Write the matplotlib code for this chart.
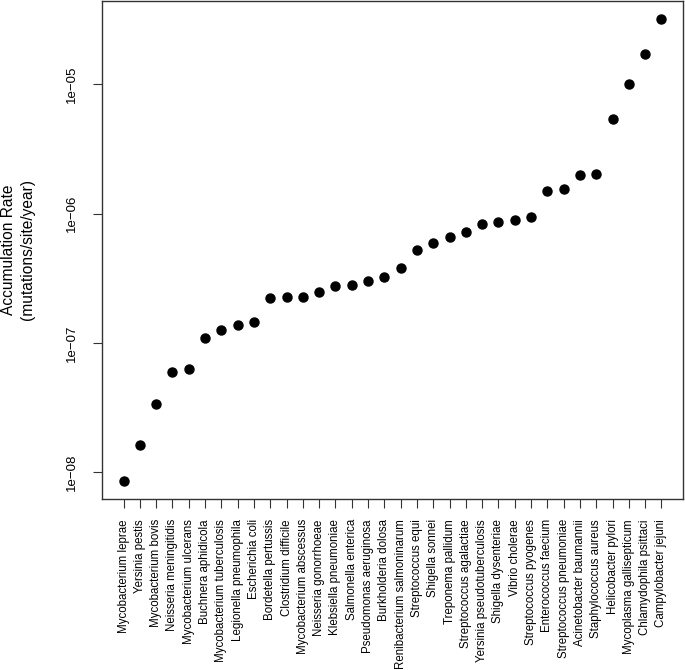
import matplotlib
matplotlib.use("Agg")
import math
import matplotlib.pyplot as plt
from matplotlib.ticker import FixedLocator, NullLocator

species = ["Mycobacterium leprae", "Yersinia pestis", "Mycobacterium bovis",
           "Neisseria meningitidis", "Mycobacterium ulcerans", "Buchnera aphidicola",
           "Mycobacterium tuberculosis", "Legionella pneumophila", "Escherichia coli",
           "Bordetella pertussis", "Clostridium difficile", "Mycobacterium abscessus",
           "Neisseria gonorrhoeae", "Klebsiella pneumoniae", "Salmonella enterica",
           "Pseudomonas aeruginosa", "Burkholderia dolosa", "Renibacterium salmoninarum",
           "Streptococcus equi", "Shigella sonnei", "Treponema pallidum",
           "Streptococcus agalactiae", "Yersinia pseudotuberculosis", "Shigella dysenteriae",
           "Vibrio cholerae", "Streptococcus pyogenes", "Enterococcus faecium",
           "Streptococcus pneumoniae", "Acinetobacter baumannii", "Staphylococcus aureus",
           "Helicobacter pylori", "Mycoplasma gallisepticum", "Chlamydophila psittaci",
           "Campylobacter jejuni"]

rates = [8.6e-9, 1.62e-8, 3.39e-8, 6.0e-8, 6.28e-8, 1.09e-7, 1.26e-7, 1.38e-7,
         1.44e-7, 2.24e-7, 2.25e-7, 2.28e-7, 2.48e-7, 2.75e-7, 2.79e-7, 2.99e-7,
         3.26e-7, 3.78e-7, 5.2e-7, 5.97e-7, 6.56e-7, 7.17e-7, 8.3e-7, 8.67e-7,
         8.87e-7, 9.42e-7, 1.49e-6, 1.55e-6, 1.98e-6, 2.03e-6, 5.39e-6, 1.01e-5,
         1.73e-5, 3.18e-5]

ytick_vals = [1e-8, 1e-7, 1e-6, 1e-5]
ytick_labels = ["1e\u221208", "1e\u221207", "1e\u221206", "1e\u221205"]

plt.rcParams['font.family'] = ['Liberation Sans', 'DejaVu Sans']

fig = plt.figure(figsize=(6.85, 6.7), dpi=100)
ax = fig.add_axes([102/685, 1 - 499/670, (683-102)/685, (499-1)/670])

x = list(range(1, len(rates) + 1))
ax.plot(x, rates, 'o', color='black', markersize=6.5, linestyle='none')
ax.set_yscale('log')

n = len(rates)
pad = 0.04 * (n - 1)
ax.set_xlim(1 - pad, n + pad)
lo, hi = math.log10(min(rates)), math.log10(max(rates))
p = 0.04 * (hi - lo)
ax.set_ylim(10 ** (lo - p), 10 ** (hi + p))

ax.yaxis.set_major_locator(FixedLocator(ytick_vals))
ax.yaxis.set_minor_locator(NullLocator())
ax.set_yticklabels(ytick_labels, rotation=90, va='center', fontsize=9.5)
ax.set_xticks(x)
ax.set_xticklabels(species, rotation=90, fontsize=8.3)
ax.tick_params(direction='out', length=6.5, width=0.8, color='#333333')
ax.tick_params(axis='x', pad=8)
ax.tick_params(axis='y', pad=10.5)
for s in ax.spines.values():
    s.set_linewidth(1.0)
    s.set_color('#333333')

fig.text(9/685, 1 - 250/670, "Accumulation Rate", rotation=90, ha='center', va='center', fontsize=11.2)
fig.text(27/685, 1 - 250/670, "(mutations/site/year)", rotation=90, ha='center', va='center', fontsize=11.2)

fig.savefig("out.png", dpi=100)
